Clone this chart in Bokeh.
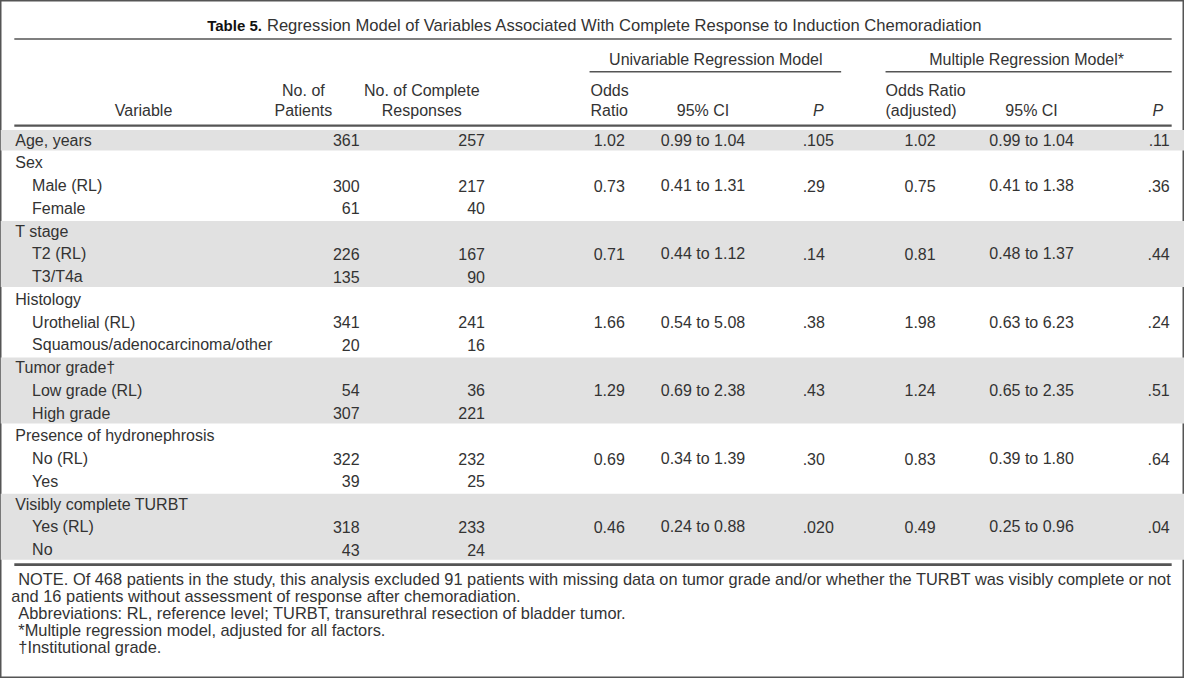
from bokeh.plotting import figure
from bokeh.models import Range1d
from bokeh.embed import file_html
from bokeh.resources import INLINE
from bokeh.core.properties import value

# ---------------- data ----------------
variables = ["Age, years", "Sex", "Male (RL)", "Female", "T stage", "T2 (RL)", "T3/T4a",
             "Histology", "Urothelial (RL)", "Squamous/adenocarcinoma/other",
             "Tumor grade\u2020", "Low grade (RL)", "High grade",
             "Presence of hydronephrosis", "No (RL)", "Yes",
             "Visibly complete TURBT", "Yes (RL)", "No"]
levels = [0, 0, 1, 1, 0, 1, 1, 0, 1, 1, 0, 1, 1, 0, 1, 1, 0, 1, 1]
n_patients = ["361", "", "300", "61", "", "226", "135", "", "341", "20", "", "54", "307",
              "", "322", "39", "", "318", "43"]
n_complete = ["257", "", "217", "40", "", "167", "90", "", "241", "16", "", "36", "221",
              "", "232", "25", "", "233", "24"]
uni_or = ["1.02", "", "0.73", "", "", "0.71", "", "", "1.66", "", "", "1.29", "",
          "", "0.69", "", "", "0.46", ""]
uni_ci = ["0.99 to 1.04", "", "0.41 to 1.31", "", "", "0.44 to 1.12", "", "", "0.54 to 5.08", "",
          "", "0.69 to 2.38", "", "", "0.34 to 1.39", "", "", "0.24 to 0.88", ""]
uni_p = [".105", "", ".29", "", "", ".14", "", "", ".38", "", "", ".43", "",
         "", ".30", "", "", ".020", ""]
multi_or = ["1.02", "", "0.75", "", "", "0.81", "", "", "1.98", "", "", "1.24", "",
            "", "0.83", "", "", "0.49", ""]
multi_ci = ["0.99 to 1.04", "", "0.41 to 1.38", "", "", "0.48 to 1.37", "", "", "0.63 to 6.23", "",
            "", "0.65 to 2.35", "", "", "0.39 to 1.80", "", "", "0.25 to 0.96", ""]
multi_p = [".11", "", ".36", "", "", ".44", "", "", ".24", "", "", ".51", "",
           "", ".64", "", "", ".04", ""]
shaded_groups = [(0, 0), (4, 6), (10, 12), (16, 18)]

title_bold = "Table 5."
title_rest = "Regression Model of Variables Associated With Complete Response to Induction Chemoradiation"
footnotes = [
    "NOTE. Of 468 patients in the study, this analysis excluded 91 patients with missing data on tumor grade and/or whether the TURBT was visibly complete or not",
    "and 16 patients without assessment of response after chemoradiation.",
    "Abbreviations: RL, reference level; TURBT, transurethral resection of bladder tumor.",
    "*Multiple regression model, adjusted for all factors.",
    "\u2020Institutional grade.",
]

# ---------------- layout ----------------
FONT = value("Liberation Sans")
FS = "16px"
COL = "#333333"
LINE = "#555555"

p = figure(width=1184, height=678, x_range=Range1d(0, 1200), y_range=Range1d(694, 0),
           output_backend="svg", toolbar_location=None, min_border=0,
           x_axis_location=None, y_axis_location=None)
p.xgrid.visible = False
p.ygrid.visible = False
p.outline_line_color = "#555555"
p.outline_line_width = 2
p.background_fill_color = "white"
p.border_fill_color = "white"

ROW0 = 143.0
PITCH = 23.28
row_c = [ROW0 + i * PITCH for i in range(len(variables))]

# shaded bands
p.quad(left=[0] * len(shaded_groups), right=[1200] * len(shaded_groups),
       top=[row_c[a] - 10.5 for a, b in shaded_groups],
       bottom=[row_c[b] + 10.5 for a, b in shaded_groups],
       fill_color="#e1e1e1", line_color=None)

# rules
p.segment(x0=[14, 597, 897, 14], x1=[1187, 852, 1187, 1187],
          y0=[39.5, 73, 73, 128], y1=[39.5, 73, 73, 128],
          line_color=LINE, line_width=[1.5, 1.5, 1.5, 2.2])
p.segment(x0=[14], x1=[1187], y0=[577.5], y1=[577.5], line_color=LINE, line_width=2.8)


def txt(xs, ys, texts, align="left", size=FS, style="normal", color=COL, font=FONT):
    p.text(x=xs, y=ys, text=texts, text_font=font, text_font_size=size,
           text_align=align, text_baseline="middle", text_color=color,
           text_font_style=style)


# title
txt([265], [26], [title_bold], align="right", style="bold", size="15px", color="#111111")
txt([270], [26], [title_rest], size="16.6px")

# spanners
txt([725], [60], ["Univariable Regression Model"], align="center")
txt([1040], [60], ["Multiple Regression Model*"], align="center")

# column headers
H1, H2 = 92, 113
txt([145], [H2], ["Variable"], align="center")
txt([307, 307], [H1, H2], ["No. of", "Patients"], align="center")
txt([427, 427], [H1, H2], ["No. of Complete", "Responses"], align="center")
txt([598, 598], [H1, H2], ["Odds", "Ratio"])
txt([712], [H2], ["95% CI"], align="center")
txt([829], [H2], ["P"], align="center", style="italic")
txt([897, 897], [H1, H2], ["Odds Ratio", "(adjusted)"])
txt([1045], [H2], ["95% CI"], align="center")
txt([1173], [H2], ["P"], align="center", style="italic")

# body
var_x = [15 if lv == 0 else 32 for lv in levels]
txt(var_x, row_c, variables)
txt([364] * len(row_c), row_c, n_patients, align="right")
txt([491] * len(row_c), row_c, n_complete, align="right")
txt([617] * len(row_c), row_c, uni_or, align="center")
txt([712] * len(row_c), row_c, uni_ci, align="center")
txt([813] * len(row_c), row_c, uni_p)
txt([932] * len(row_c), row_c, multi_or, align="center")
txt([1045] * len(row_c), row_c, multi_ci, align="center")
txt([1185] * len(row_c), row_c, multi_p, align="right")

# footnotes
fx = [18, 11, 18, 18, 18]
fy = [592, 610, 627, 644, 662]
txt(fx, fy, footnotes, size="16.4px")

open("out.html", "w").write(file_html(p, INLINE))
